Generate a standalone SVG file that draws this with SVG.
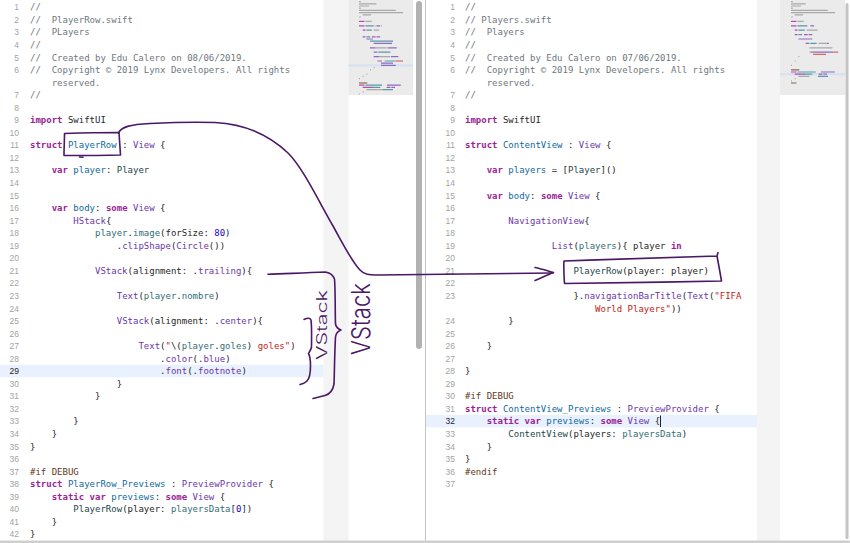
<svg xmlns="http://www.w3.org/2000/svg" width="850" height="543" viewBox="0 0 850 543" xml:space="preserve">
<style>
.code{font-family:'DejaVu Sans Mono','Liberation Mono',monospace;font-size:9px;fill:#262626;white-space:pre}
.ln{font-family:'Liberation Sans',Arial,sans-serif;font-size:8.5px;fill:#a3a3a3;text-anchor:end}
.cur{fill:#1e1e1e}
.c{fill:#6f7780}
.k{fill:#9b2393;font-weight:bold}
.t{fill:#6c36a9}
.p{fill:#326d74}
.d{fill:#0f68a0}
.pt{fill:#1c464a}
.s{fill:#c41a16}
.n{fill:#1c00cf}
.pp{fill:#643820}
.mm{fill:none;stroke-width:1.2}
.mg{stroke:#a9a9a9}.mk{stroke:#b34fae}.mt{stroke:#8d6bc4}.mp{stroke:#5a9aa8}.ms{stroke:#d66a68}.mb{stroke:#8a6a50}
.ink{fill:none;stroke:#4a1866;stroke-width:1.6;stroke-linecap:round;stroke-linejoin:round}
.hand{font-family:Inter,Lato,'DejaVu Sans',sans-serif;font-weight:300;fill:#4a1866}
</style>
<rect x="0" y="0" width="850" height="543" fill="#ffffff"/>
<g id="left-editor">
<rect x="323.5" y="0" width="25" height="541" fill="#f4f4f4"/>
<rect x="348.5" y="0" width="64.5" height="95" fill="#ebebeb"/>
<rect x="348.5" y="64.3" width="64.5" height="2.2" fill="#d4e2f2"/>
<rect x="416" y="1" width="6" height="348" rx="3" fill="#b1b1b1"/>
<rect x="0" y="364.8" width="323.5" height="12.5" fill="#e8f1fd"/>
<g id="left-minimap">
<path class="mm mg" d="M359 1.6h1.8M359 3.8h17.5M359 6h10M359 8.2h1.8M359 10.4h36.8M359 12.6h44M362.7 14.8h8.3M359 17h1.8M365.4 21.4h6.4M374.6 25.8h1M381 25.8h1M373.7 30.2h5.5M375.6 47.8h11M379.3 56.6h11M373.7 67.6h1M370 69.8h1M366.4 74.2h1M362.7 76.4h1M359 78.6h1M366.4 89.6h16.6M362.7 91.8h1M359 94h1"/>
<path class="mm mk" d="M359 21.4h5.5M359 25.8h5.5M362.7 30.2h2.8M362.7 36.8h2.8M371.9 36.8h3.7M359 85.2h5.5M362.7 87.4h10M386.7 87.4h3.7"/>
<path class="mm mt" d="M376.4 25.8h3.7M376.5 36.8h3.7M366.4 39h6.4M373.7 43.4h18.4M370 47.8h5.5M387.5 47.8h9.2M373.7 52.2h3.7M373.7 56.6h5.5M391 56.6h7.4M377.4 61h4.6M381 63.2h12M381 65.4h14.7M387 85.2h13.8M391.3 87.4h3.7"/>
<path class="mm mp" d="M365.4 25.8h8.3M366.4 30.2h5.5M366.4 36.8h3.7M370 41.2h23M378.3 52.2h12M384.7 61h11M365.4 85.2h16.6M372 87.4h8.3M383 89.6h10"/>
<path class="mm ms" d="M396 61h7"/>
<path class="mm mb" d="M359 83h8.3"/>
</g>
<g id="left-line-numbers">
<text class="ln" x="19" y="10.3">1</text><text class="ln" x="19" y="22.85">2</text><text class="ln" x="19" y="35.4">3</text><text class="ln" x="19" y="47.95">4</text><text class="ln" x="19" y="60.5">5</text><text class="ln" x="19" y="73.05">6</text>
<text class="ln" x="19" y="98.15">7</text><text class="ln" x="19" y="110.7">8</text><text class="ln" x="19" y="123.25">9</text><text class="ln" x="19" y="135.8">10</text><text class="ln" x="19" y="148.35">11</text><text class="ln" x="19" y="160.9">12</text><text class="ln" x="19" y="173.45">13</text><text class="ln" x="19" y="186">14</text><text class="ln" x="19" y="198.55">15</text><text class="ln" x="19" y="211.1">16</text><text class="ln" x="19" y="223.65">17</text><text class="ln" x="19" y="236.2">18</text><text class="ln" x="19" y="248.75">19</text><text class="ln" x="19" y="261.3">20</text><text class="ln" x="19" y="273.85">21</text><text class="ln" x="19" y="286.4">22</text><text class="ln" x="19" y="298.95">23</text><text class="ln" x="19" y="311.5">24</text><text class="ln" x="19" y="324.05">25</text><text class="ln" x="19" y="336.6">26</text><text class="ln" x="19" y="349.15">27</text><text class="ln" x="19" y="361.7">28</text><text class="ln cur" x="19" y="374.25">29</text><text class="ln" x="19" y="386.8">30</text><text class="ln" x="19" y="399.35">31</text><text class="ln" x="19" y="411.9">32</text><text class="ln" x="19" y="424.45">33</text><text class="ln" x="19" y="437">34</text><text class="ln" x="19" y="449.55">35</text><text class="ln" x="19" y="462.1">36</text><text class="ln" x="19" y="474.65">37</text><text class="ln" x="19" y="487.2">38</text><text class="ln" x="19" y="499.75">39</text><text class="ln" x="19" y="512.3">40</text><text class="ln" x="19" y="524.85">41</text><text class="ln" x="19" y="537.4">42</text>
</g>
<g id="left-code">
<text class="code c" x="30" y="10.3">//</text>
<text class="code c" x="30" y="22.85">//  PlayerRow.swift</text>
<text class="code c" x="30" y="35.4">//  PLayers</text>
<text class="code c" x="30" y="47.95">//</text>
<text class="code c" x="30" y="60.5">//  Created by Edu Calero on 08/06/2019.</text>
<text class="code c" x="30" y="73.05">//  Copyright © 2019 Lynx Developers. All rights</text>
<text class="code c" x="51.68" y="85.6">reserved.</text>
<text class="code c" x="30" y="98.15">//</text>
<text class="code" x="30" y="123.25"><tspan class="k">import</tspan> SwiftUI</text>
<text class="code" x="30" y="148.35"><tspan class="k">struct</tspan> <tspan class="d">PlayerRow</tspan> : <tspan class="t">View</tspan> {</text>
<text class="code" x="51.68" y="173.45"><tspan class="k">var</tspan> <tspan class="d">player</tspan>: <tspan class="pt">Player</tspan></text>
<text class="code" x="51.68" y="211.1"><tspan class="k">var</tspan> <tspan class="d">body</tspan>: <tspan class="k">some</tspan> <tspan class="t">View</tspan> {</text>
<text class="code" x="73.36" y="223.65"><tspan class="t">HStack</tspan>{</text>
<text class="code" x="95.04" y="236.2"><tspan class="p">player</tspan>.<tspan class="p">image</tspan>(forSize: <tspan class="n">80</tspan>)</text>
<text class="code" x="116.72" y="248.75">.<tspan class="t">clipShape</tspan>(<tspan class="t">Circle</tspan>())</text>
<text class="code" x="95.04" y="273.85"><tspan class="t">VStack</tspan>(alignment: .<tspan class="t">trailing</tspan>){</text>
<text class="code" x="116.72" y="298.95"><tspan class="t">Text</tspan>(<tspan class="p">player</tspan>.<tspan class="p">nombre</tspan>)</text>
<text class="code" x="116.72" y="324.05"><tspan class="t">VStack</tspan>(alignment: .<tspan class="t">center</tspan>){</text>
<text class="code" x="138.4" y="349.15"><tspan class="t">Text</tspan>(<tspan class="s">"</tspan>\(<tspan class="p">player</tspan>.<tspan class="p">goles</tspan>)<tspan class="s"> goles"</tspan>)</text>
<text class="code" x="160.08" y="361.7">.<tspan class="t">color</tspan>(.<tspan class="t">blue</tspan>)</text>
<text class="code" x="160.08" y="374.25">.<tspan class="t">font</tspan>(.<tspan class="t">footnote</tspan>)</text>
<text class="code" x="116.72" y="386.8">}</text>
<text class="code" x="95.04" y="399.35">}</text>
<text class="code" x="73.36" y="424.45">}</text>
<text class="code" x="51.68" y="437">}</text>
<text class="code" x="30" y="449.55">}</text>
<text class="code pp" x="30" y="474.65">#if DEBUG</text>
<text class="code" x="30" y="487.2"><tspan class="k">struct</tspan> <tspan class="d">PlayerRow_Previews</tspan> : <tspan class="t">PreviewProvider</tspan> {</text>
<text class="code" x="51.68" y="499.75"><tspan class="k">static var</tspan> <tspan class="d">previews</tspan>: <tspan class="k">some</tspan> <tspan class="t">View</tspan> {</text>
<text class="code" x="73.36" y="512.3"><tspan class="pt">PlayerRow</tspan>(player: <tspan class="p">playersData</tspan>[<tspan class="n">0</tspan>])</text>
<text class="code" x="51.68" y="524.85">}</text>
<text class="code" x="30" y="537.4">}</text>
</g>
</g>
<line x1="425.5" y1="0" x2="425.5" y2="541" stroke="#c4c4c4" stroke-width="1"/>
<g id="right-editor">
<rect x="757" y="0" width="23" height="541" fill="#f4f4f4"/>
<rect x="780" y="0" width="65" height="95" fill="#ebebeb"/>
<rect x="780" y="73.1" width="65" height="2.2" fill="#d4e2f2"/>
<rect x="845.5" y="3" width="3" height="536" rx="1.5" fill="#c4c4c4"/>
<rect x="426" y="414.9" width="331" height="12.5" fill="#e8f1fd"/>
<g id="right-minimap">
<path class="mm mg" d="M791 1.6h1.8M791 3.8h14.7M791 6h10M791 8.2h1.8M791 10.4h36.8M791 12.6h44M794.7 14.8h8.3M791 17h1.8M797.4 21.4h6.4M806.6 30.2h11M818.6 43.4h8M809.4 47.8h23M809.4 52.2h1.8M798.4 56.6h1M794.7 61h1M791 65.4h1M798.4 76.4h11M794.7 78.6h1M791 80.8h1"/>
<path class="mm mk" d="M791 21.4h5.5M791 25.8h5.5M794.7 30.2h2.8M794.7 34.6h2.8M804 34.6h3.7M826.9 43.4h1.8M791 72h5.5M794.7 74.2h10M818.7 74.2h3.7"/>
<path class="mm mt" d="M810.3 25.8h3.7M808.6 34.6h3.7M798.4 39h13.8M805.7 43.4h3.7M811.2 52.2h22M821 72h13.8M823.3 74.2h3.7"/>
<path class="mm mp" d="M797.4 25.8h10M798.4 30.2h6.4M798.4 34.6h3.7M810.3 43.4h6.4M797.4 72h18.4M804 74.2h8.3M818 76.4h10"/>
<path class="mm ms" d="M833.2 52.2h5M813 54.4h13"/>
<path class="mm mb" d="M791 69.8h8.3M791 83h5.5"/>
</g>
<g id="right-line-numbers">
<text class="ln" x="455" y="10.3">1</text><text class="ln" x="455" y="22.85">2</text><text class="ln" x="455" y="35.4">3</text><text class="ln" x="455" y="47.95">4</text><text class="ln" x="455" y="60.5">5</text><text class="ln" x="455" y="73.05">6</text>
<text class="ln" x="455" y="98.15">7</text><text class="ln" x="455" y="110.7">8</text><text class="ln" x="455" y="123.25">9</text><text class="ln" x="455" y="135.8">10</text><text class="ln" x="455" y="148.35">11</text><text class="ln" x="455" y="160.9">12</text><text class="ln" x="455" y="173.45">13</text><text class="ln" x="455" y="186">14</text><text class="ln" x="455" y="198.55">15</text><text class="ln" x="455" y="211.1">16</text><text class="ln" x="455" y="223.65">17</text><text class="ln" x="455" y="236.2">18</text><text class="ln" x="455" y="248.75">19</text><text class="ln" x="455" y="261.3">20</text><text class="ln" x="455" y="273.85">21</text><text class="ln" x="455" y="286.4">22</text><text class="ln" x="455" y="298.95">23</text><text class="ln" x="455" y="324.05">24</text><text class="ln" x="455" y="336.6">25</text><text class="ln" x="455" y="349.15">26</text><text class="ln" x="455" y="361.7">27</text><text class="ln" x="455" y="374.25">28</text><text class="ln" x="455" y="386.8">29</text><text class="ln" x="455" y="399.35">30</text><text class="ln" x="455" y="411.9">31</text><text class="ln cur" x="455" y="424.45">32</text><text class="ln" x="455" y="437">33</text><text class="ln" x="455" y="449.55">34</text><text class="ln" x="455" y="462.1">35</text><text class="ln" x="455" y="474.65">36</text><text class="ln" x="455" y="487.2">37</text>
</g>
<g id="right-code">
<text class="code c" x="465" y="10.3">//</text>
<text class="code c" x="465" y="22.85">// Players.swift</text>
<text class="code c" x="465" y="35.4">//  Players</text>
<text class="code c" x="465" y="47.95">//</text>
<text class="code c" x="465" y="60.5">//  Created by Edu Calero on 07/06/2019.</text>
<text class="code c" x="465" y="73.05">//  Copyright © 2019 Lynx Developers. All rights</text>
<text class="code c" x="486.68" y="85.6">reserved.</text>
<text class="code c" x="465" y="98.15">//</text>
<text class="code" x="465" y="123.25"><tspan class="k">import</tspan> SwiftUI</text>
<text class="code" x="465" y="148.35"><tspan class="k">struct</tspan> <tspan class="d">ContentView</tspan> : <tspan class="t">View</tspan> {</text>
<text class="code" x="486.68" y="173.45"><tspan class="k">var</tspan> <tspan class="d">players</tspan> = [<tspan class="pt">Player</tspan>]()</text>
<text class="code" x="486.68" y="198.55"><tspan class="k">var</tspan> <tspan class="d">body</tspan>: <tspan class="k">some</tspan> <tspan class="t">View</tspan> {</text>
<text class="code" x="508.36" y="223.65"><tspan class="t">NavigationView</tspan>{</text>
<text class="code" x="551.72" y="248.75"><tspan class="t">List</tspan>(<tspan class="p">players</tspan>){ player <tspan class="k">in</tspan></text>
<text class="code" x="573.4" y="273.85"><tspan class="pt">PlayerRow</tspan>(player: player)</text>
<text class="code" x="573.4" y="298.95">}.<tspan class="t">navigationBarTitle</tspan>(<tspan class="t">Text</tspan>(<tspan class="s">"FIFA</tspan></text>
<text class="code" x="595.08" y="311.5"><tspan class="s">World Players"</tspan>))</text>
<text class="code" x="508.36" y="324.05">}</text>
<text class="code" x="486.68" y="349.15">}</text>
<text class="code" x="465" y="374.25">}</text>
<text class="code pp" x="465" y="399.35">#if DEBUG</text>
<text class="code" x="465" y="411.9"><tspan class="k">struct</tspan> <tspan class="d">ContentView_Previews</tspan> : <tspan class="t">PreviewProvider</tspan> {</text>
<text class="code" x="486.68" y="424.45"><tspan class="k">static var</tspan> <tspan class="d">previews</tspan>: <tspan class="k">some</tspan> <tspan class="t">View</tspan> {</text>
<text class="code" x="508.36" y="437"><tspan class="pt">ContentView</tspan>(players: <tspan class="p">playersData</tspan>)</text>
<text class="code" x="486.68" y="449.55">}</text>
<text class="code" x="465" y="462.1">}</text>
<text class="code pp" x="465" y="474.65">#endif</text>
<line x1="660.5" y1="415.5" x2="660.5" y2="427" stroke="#222222" stroke-width="1"/>
</g>
</g>
<rect x="0" y="540.5" width="850" height="2.5" fill="#cfcfcf"/>
<g id="connectors">
<path class="ink" d="M64.5,133.5 C80,133 105,132.5 119,132.5 C119.5,140 120,148 120.5,155 C100,155.5 80,155.5 64,155.5 C64,148 64.5,140 64.5,133.5"/>
<path class="ink" d="M79.5,157 L83,157.3" stroke-width="2.4"/>
<path class="ink" d="M118.5,133 C121,127 130,124.5 150,123.5 C180,122 200,122 215,122.5 C245,124 268,134 288,153 C303,168 318,200 333,226 C343,244 352,262 360,270 C364,274.5 369,275 378,275 L553,273"/>
<path class="ink" d="M535,267.5 C542,269 548,271 553.5,272.5 C547,275 541,278 535,280.5"/>
<path class="ink" d="M564,261 C620,259 680,257 717,256 L718,252.5 M717,256 C718.5,264 720,272 721.5,281 C670,282 610,283 564.5,283.5 C564,276 563.5,268 564,261"/>
<path class="ink" d="M268,274.3 C285,273.5 305,273 325,272 C330,272.5 333,275 334.5,279 C335.5,290 335,310 335.5,324 C336,327 338,329 341,330 C338,331 336,333.5 335.5,337 C334.5,355 334.5,372 334,384 C333,390 330,394 325,395.5 C320,397 316,397.5 313,398.5"/>
<path class="ink" d="M304,319.5 C307,318 310,317.5 311,320 C312,328 311.5,340 311.5,347 C311,350 309.5,352 308.5,353.5 C310,356 310.5,360 310.5,366 C310.5,373 310,378 307,381 C305,383 302,384 300,384.5"/>
<text class="hand" transform="translate(327,360) rotate(-90)" font-size="14" textLength="70" lengthAdjust="spacingAndGlyphs">VStack</text>
<text class="hand" transform="translate(370,355) rotate(-90)" font-size="26" textLength="72" lengthAdjust="spacingAndGlyphs">VStack</text>
</g>
</svg>
